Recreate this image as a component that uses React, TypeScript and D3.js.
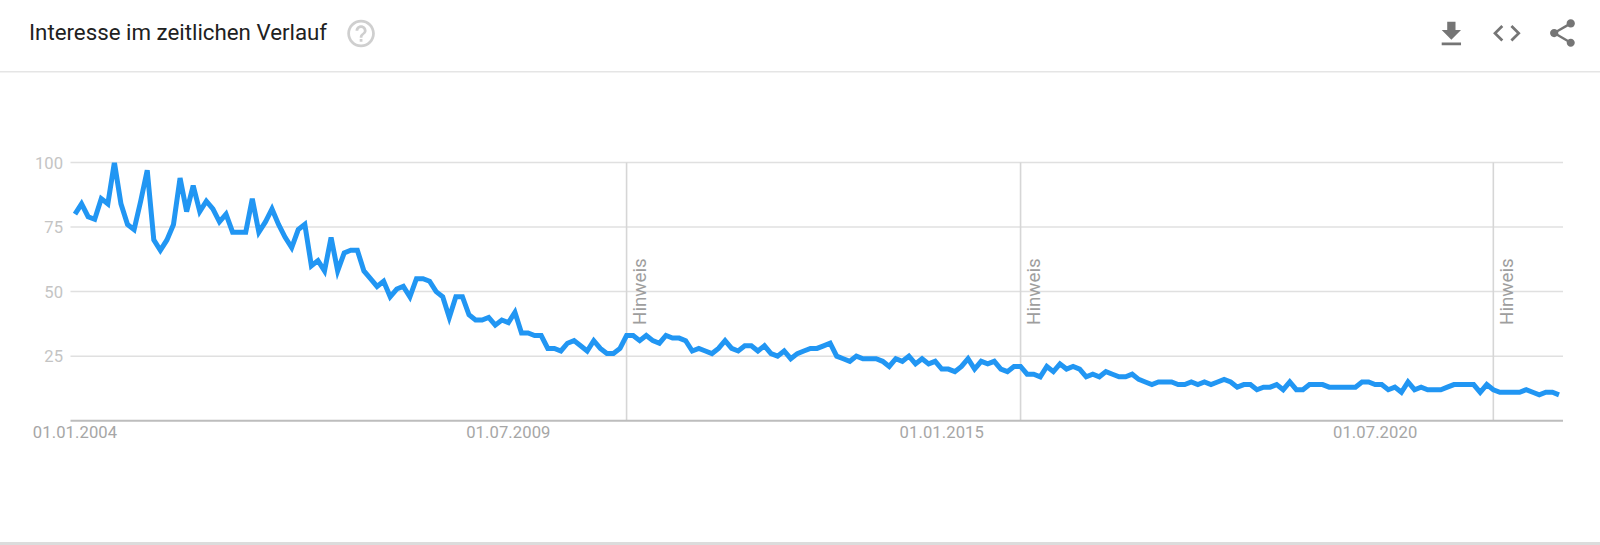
import React from "react";
import * as d3 from "d3";

const TITLE = "Interesse im zeitlichen Verlauf";
const NOTE_LABEL = "Hinweis";
const yTicks = [25, 50, 75, 100];
const xTickLabels = ["01.01.2004", "01.07.2009", "01.01.2015", "01.07.2020"];
const xTickMonths = [0, 66, 132, 198];
const noteMonths = [84, 144, 216];
// monthly interest, Jan 2004 onward
const values = [
  80, 84, 79, 78, 86, 84, 100, 84, 76, 74, 85, 97,
  70, 66, 70, 76, 94, 81, 91, 81, 85, 82, 77, 80,
  73, 73, 73, 86, 73, 77, 82, 76, 71, 67, 74, 76,
  60, 62, 58, 71, 58, 65, 66, 66, 58, 55, 52, 54,
  48, 51, 52, 48, 55, 55, 54, 50, 48, 40, 48, 48,
  41, 39, 39, 40, 37, 39, 38, 42, 34, 34, 33, 33,
  28, 28, 27, 30, 31, 29, 27, 31, 28, 26, 26, 28,
  33, 33, 31, 33, 31, 30, 33, 32, 32, 31, 27, 28,
  27, 26, 28, 31, 28, 27, 29, 29, 27, 29, 26, 25,
  27, 24, 26, 27, 28, 28, 29, 30, 25, 24, 23, 25,
  24, 24, 24, 23, 21, 24, 23, 25, 22, 24, 22, 23,
  20, 20, 19, 21, 24, 20, 23, 22, 23, 20, 19, 21,
  21, 18, 18, 17, 21, 19, 22, 20, 21, 20, 17, 18,
  17, 19, 18, 17, 17, 18, 16, 15, 14, 15, 15, 15,
  14, 14, 15, 14, 15, 14, 15, 16, 15, 13, 14, 14,
  12, 13, 13, 14, 12, 15, 12, 12, 14, 14, 14, 13,
  13, 13, 13, 13, 15, 15, 14, 14, 12, 13, 11, 15,
  12, 13, 12, 12, 12, 13, 14, 14, 14, 14, 11, 14,
  12, 11, 11, 11, 11, 12, 11, 10, 11, 11, 10,
];

const ICON_DOWNLOAD = "M19 9h-4V3H9v6H5l7 7 7-7zM5 18v2h14v-2H5z";
const ICON_CODE = "M9.4 16.6L4.8 12l4.6-4.6L8 6l-6 6 6 6 1.4-1.4zm5.2 0l4.6-4.6-4.6-4.6L16 6l6 6-6 6-1.4-1.4z";
const ICON_SHARE = "M18 16.08c-.76 0-1.44.3-1.96.77L8.91 12.7c.05-.23.09-.46.09-.7s-.04-.47-.09-.7l7.05-4.11c.54.5 1.25.81 2.04.81 1.66 0 3-1.34 3-3s-1.34-3-3-3-3 1.34-3 3c0 .24.04.47.09.7L8.04 9.81C7.5 9.31 6.79 9 6 9c-1.66 0-3 1.34-3 3s1.34 3 3 3c.79 0 1.5-.31 2.04-.81l7.12 4.16c-.05.21-.08.43-.08.65 0 1.61 1.31 2.92 2.92 2.92 1.61 0 2.92-1.31 2.92-2.92s-1.31-2.92-2.92-2.92z";
const ICON_HELP = "M11 18h2v-2h-2v2zm1-16C6.48 2 2 6.48 2 12s4.48 10 10 10 10-4.48 10-10S17.52 2 12 2zm0 18c-4.41 0-8-3.59-8-8s3.59-8 8-8 8 3.59 8 8-3.59 8-8 8zm0-14c-2.21 0-4 1.79-4 4h2c0-1.1.9-2 2-2s2 .9 2 2c0 2-3 1.75-3 5h2c0-2.25 3-2.5 3-5 0-2.21-1.79-4-4-4z";

const FONT = "Roboto, sans-serif";

export default function App() {
  const x = d3.scaleLinear().domain([0, 226]).range([75, 1559]);
  const y = d3.scaleLinear().domain([0, 100]).range([420.7, 162.5]);
  const line = d3.line<number>().x((_, i) => x(i)).y((d) => y(d));
  const plotLeft = 70.5;
  const plotRight = 1563;
  return (
    <svg
      width={1600}
      height={545}
      viewBox="0 0 1600 545"
      style={{ position: "absolute", left: 0, top: 0, background: "#fff" }}
    >
      <defs>
        <clipPath id="plot">
          <rect x={plotLeft} y={y(100)} width={plotRight - plotLeft} height={y(0) - y(100)} />
        </clipPath>
      </defs>

      <text x={29} y={40} fontFamily={FONT} fontSize={22.3} fill="#212121">{TITLE}</text>
      <path d={ICON_HELP} transform="translate(344.5,17) scale(1.38)" fill="#cfcfcf" />
      <path d={ICON_DOWNLOAD} transform="translate(1434.8,17.6) scale(1.38)" fill="#757575" />
      <path d={ICON_CODE} transform="translate(1490.3,16.7) scale(1.38)" fill="#757575" />
      <path d={ICON_SHARE} transform="translate(1545.9,16.5) scale(1.38)" fill="#757575" />
      <rect x={0} y={71} width={1600} height={1.5} fill="#e5e5e5" />
      <rect x={0} y={542} width={1600} height={3} fill="#dcdcdc" />

      {yTicks.map((t) => (
        <g key={t}>
          <line x1={plotLeft} x2={plotRight} y1={y(t)} y2={y(t)} stroke="#e0e0e0" strokeWidth={1.5} />
          <text x={63} y={y(t) + 6} textAnchor="end" fontFamily={FONT} fontSize={16.6} fill="#c4c4c4">{t}</text>
        </g>
      ))}

      {noteMonths.map((m) => (
        <g key={m}>
          <line x1={x(m)} x2={x(m)} y1={y(100)} y2={y(0)} stroke="#d6d6d6" strokeWidth={1.6} />
          <text
            transform={`translate(${x(m) + 19.5},325) rotate(-90)`}
            fontFamily={FONT}
            fontSize={18.8}
            fill="#9e9e9e"
          >
            {NOTE_LABEL}
          </text>
        </g>
      ))}

      <line x1={plotLeft} x2={plotRight} y1={y(0)} y2={y(0)} stroke="#bdbdbd" strokeWidth={2} />

      <path
        d={line(values) ?? ""}
        fill="none"
        stroke="#2196f3"
        strokeWidth={5}
        strokeLinejoin="miter"
        clipPath="url(#plot)"
      />

      {xTickLabels.map((label, i) => (
        <text
          key={label}
          x={x(xTickMonths[i])}
          y={438}
          textAnchor="middle"
          fontFamily={FONT}
          fontSize={16.6}
          letterSpacing={0.1}
          fill="#a6a6a6"
        >
          {label}
        </text>
      ))}
    </svg>
  );
}
